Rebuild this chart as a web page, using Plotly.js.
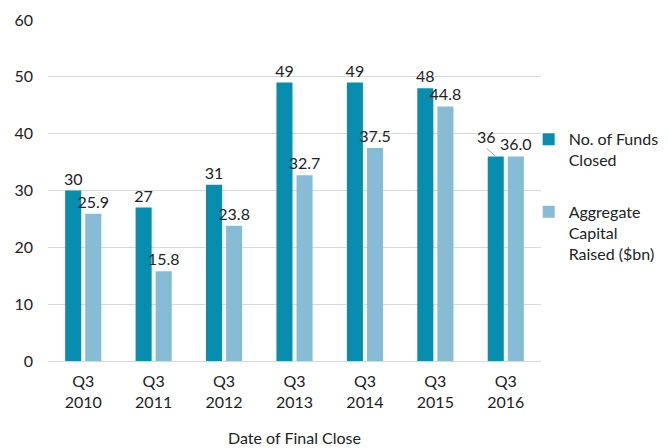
<!DOCTYPE html>
<html><head><meta charset="utf-8">
<script src="https://cdn.plot.ly/plotly-3.0.1.min.js"></script>
<style>body{margin:0;background:#fff}#c{width:668px;height:448px}</style>
</head><body><div id="c"></div>
<script>
const categories = ["Q3<br>2010","Q3<br>2011","Q3<br>2012","Q3<br>2013","Q3<br>2014","Q3<br>2015","Q3<br>2016"];
const fundsClosed = [30,27,31,49,49,48,36];
const capitalRaised = [25.9,15.8,23.8,32.7,37.5,44.8,36.0];
const seriesNames = ["No. of Funds<br>Closed","Aggregate<br>Capital<br>Raised ($bn)"];
const FONT = "Century Gothic, Lato, DejaVu Sans, sans-serif";
const last = categories.length - 1;
// the last dark-bar label is drawn as a callout (shifted left with a leader line)
const fundsText = fundsClosed.map((v,i)=> i===last ? "" : v.toFixed(0));
const data = [
 {type:"bar", x:categories, y:fundsClosed, name:seriesNames[0], legendgroup:"a",
  marker:{color:"#078DAD"},
  text:fundsText, textposition:"outside", cliponaxis:false,
  constraintext:"none", textfont:{size:16,color:"#222"}},
 {type:"bar", x:categories, y:capitalRaised, name:seriesNames[1], legendgroup:"b",
  marker:{color:"#86BCD5"},
  text:capitalRaised.map(v=>v.toFixed(1)), textposition:"outside", cliponaxis:false,
  constraintext:"none", textfont:{size:16,color:"#222"}}
];
const layout = {
 width:668, height:448, margin:{l:48,r:127,t:20,b:87,autoexpand:false},
 paper_bgcolor:"#fff", plot_bgcolor:"#fff",
 font:{family:FONT,size:16,color:"#222"},
 barmode:"group", bargap:0.43, bargroupgap:0.2,
 xaxis:{showgrid:false, showline:true, linecolor:"#d9d9d9", ticks:"", tickfont:{size:16},
   ticklabelstandoff:6, automargin:false,
   title:{text:"Date of Final Close", font:{size:16}, standoff:22}},
 yaxis:{range:[0,60], dtick:10, showgrid:true, gridcolor:"#d9d9d9", zeroline:false,
   ticks:"", tickfont:{size:16}, ticklabelstandoff:14, automargin:false},
 legend:{x:0.975, y:0.70, xanchor:"left", yanchor:"top", font:{size:16}, tracegroupgap:28,
   itemwidth:30, valign:"top", bgcolor:"rgba(0,0,0,0)"},
 annotations:[{x:categories[last], y:fundsClosed[last], xref:"x", yref:"y",
   text:fundsClosed[last].toFixed(0), showarrow:true, arrowhead:0, arrowwidth:1,
   arrowcolor:"#a6a6a6", xshift:-10, ax:-9, ay:-8, standoff:0,
   font:{size:16,color:"#222"}, yanchor:"bottom"}],
 showlegend:true
};
Plotly.newPlot("c", data, layout, {displayModeBar:false, staticPlot:true});
</script></body></html>
